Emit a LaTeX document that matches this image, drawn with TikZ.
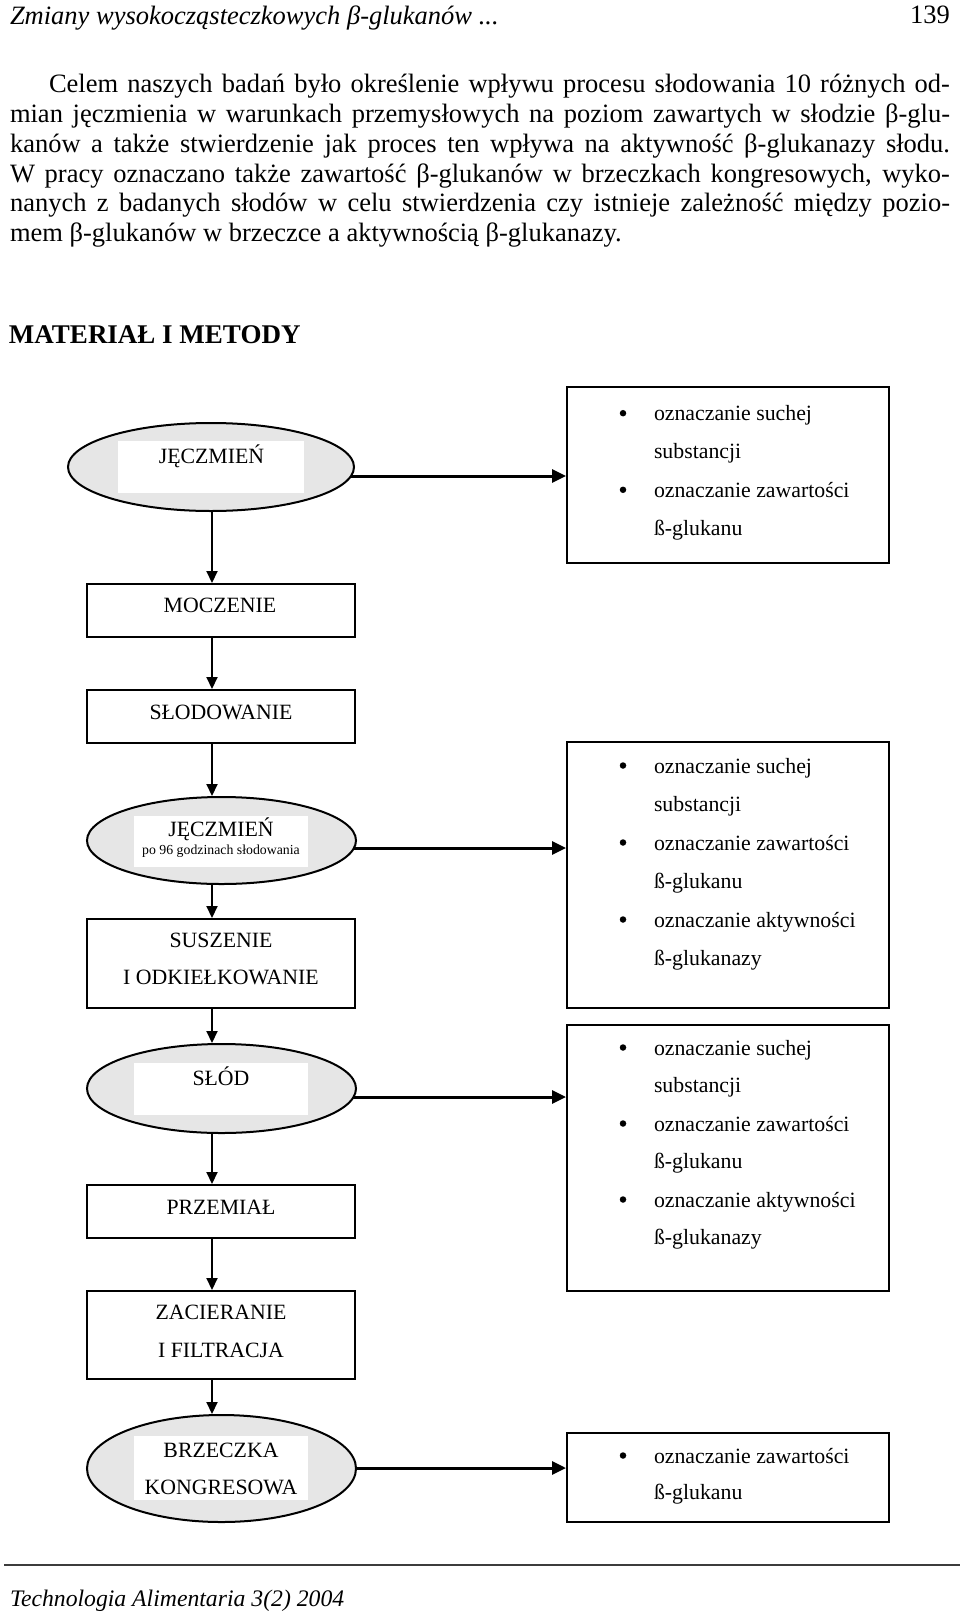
\documentclass[tikz,border=0pt]{standalone}
\usepackage{fontspec}
\setmainfont{Liberation Serif}
\usetikzlibrary{shapes.geometric,arrows.meta,backgrounds}
\definecolor{ovalgray}{RGB}{230,230,230}
\definecolor{rulegray}{RGB}{60,60,60}
\newcommand\dfont{\fontsize{21.8}{26}\selectfont}
\newcommand\pfont{\fontsize{26.5}{30}\selectfont}
\newcommand\smfont{\fontsize{13.8}{16}\selectfont}
\begin{document}
\begin{tikzpicture}[x=1pt,y=-1pt,
  txt/.style={inner sep=0pt, outer sep=0pt, font=\dfont, anchor=base},
  ptxt/.style={inner sep=0pt, outer sep=0pt, font=\pfont, anchor=base west},
  procbox/.style={rectangle, draw=black, line width=2pt, inner sep=0pt, minimum width=268pt},
  oval/.style={ellipse, draw=black, line width=2pt, fill=ovalgray, inner sep=0pt},
  whiterect/.style={rectangle, fill=white, draw=none, inner sep=0pt},
  infobox/.style={rectangle, draw=black, line width=2pt, inner sep=0pt, minimum width=322pt},
  bul/.style={circle, fill=black, draw=none, inner sep=0pt, minimum size=6.5pt},
  itemtxt/.style={inner sep=0pt, outer sep=0pt, font=\dfont, anchor=base west},
  varr/.style={line width=2pt, -{Triangle[length=12pt,width=11pt]}},
  harr/.style={line width=3pt, -{Triangle[length=14pt,width=13pt]}},
]
\useasboundingbox (0,0) rectangle (960,1614);

% ---------- page header ----------
\node[ptxt, font=\pfont\itshape] (hdr) at (10,24) {Zmiany wysokocząsteczkowych β-glukanów ...};
\node[inner sep=0pt, font=\pfont, anchor=base east] (pgnum) at (950,23.5) {139};

% ---------- paragraph ----------
\node[ptxt] (p1) at (49,92.5) {\makebox[901pt][s]{Celem naszych badań było określenie wpływu procesu słodowania 10 różnych od-}};
\node[ptxt] (p2) at (10,122.4) {\makebox[940pt][s]{mian jęczmienia w warunkach przemysłowych na poziom zawartych w słodzie β-glu-}};
\node[ptxt] (p3) at (10,152.2) {\makebox[940pt][s]{kanów a także stwierdzenie jak proces ten wpływa na aktywność β-glukanazy słodu.}};
\node[ptxt] (p4) at (10,182) {\makebox[940pt][s]{W pracy oznaczano także zawartość β-glukanów w brzeczkach kongresowych, wyko-}};
\node[ptxt] (p5) at (10,211.9) {\makebox[940pt][s]{nanych z badanych słodów w celu stwierdzenia czy istnieje zależność między pozio-}};
\node[ptxt] (p6) at (10,241.8) {mem β-glukanów w brzeczce a aktywnością β-glukanazy.};

% ---------- section title ----------
\node[ptxt, font=\fontsize{27}{30}\selectfont\bfseries] (sec) at (9,343.3) {MATERIAŁ I METODY};

% ---------- left column ----------
\coordinate (axis) at (212,0);

\node[oval, minimum width=286pt, minimum height=88pt] (eA) at (211,467) {};
\node[whiterect, minimum width=186pt, minimum height=52pt] (wA) at (211,467) {};
\node[txt] (tA) at (211.5,463) {JĘCZMIEŃ};

\node[procbox, minimum height=53pt] (moczenie) at (221,610.5) {};
\node[txt] (tmocz) at (220,612.3) {MOCZENIE};

\node[procbox, minimum height=53pt] (slodowanie) at (221,716.5) {};
\node[txt] (tslodow) at (221,719.3) {SŁODOWANIE};

\node[oval, minimum width=269pt, minimum height=87pt] (eB) at (221.5,840.5) {};
\node[whiterect, minimum width=174pt, minimum height=51pt] (wB) at (221,841.5) {};
\node[txt] (tB1) at (221,836.3) {JĘCZMIEŃ};
\node[txt, font=\smfont] (tB2) at (221,854.5) {po 96 godzinach słodowania};

\node[procbox, minimum height=89pt] (suszenie) at (221,963.5) {};
\node[txt] (tsusz1) at (221,947.3) {SUSZENIE};
\node[txt] (tsusz2) at (221,984.3) {I ODKIEŁKOWANIE};

\node[oval, minimum width=269pt, minimum height=89pt] (eC) at (221.5,1088.5) {};
\node[whiterect, minimum width=174pt, minimum height=52pt] (wC) at (221,1089) {};
\node[txt] (tC) at (221,1085) {SŁÓD};

\node[procbox, minimum height=53pt] (przemial) at (221,1211.5) {};
\node[txt] (tprzem) at (221,1214) {PRZEMIAŁ};

\node[procbox, minimum height=88pt] (zacieranie) at (221,1335) {};
\node[txt] (tzac1) at (221,1319.3) {ZACIERANIE};
\node[txt] (tzac2) at (221,1357.3) {I FILTRACJA};

\node[oval, minimum width=269pt, minimum height=107pt] (eD) at (221.5,1468.5) {};
\node[whiterect, minimum width=174pt, minimum height=64pt] (wD) at (221,1468) {};
\node[txt] (tD1) at (221,1457.3) {BRZECZKA};
\node[txt] (tD2) at (221,1494.3) {KONGRESOWA};

% ---------- right column ----------
\node[infobox, minimum height=176pt] (rA) at (728,475) {};
\node[bul] (bA1) at (623,413.2) {};
\node[itemtxt] (iA1) at (654,420.7) {oznaczanie suchej};
\node[itemtxt] (iA2) at (654,458.3) {substancji};
\node[bul] (bA2) at (623,489.8) {};
\node[itemtxt] (iA3) at (654,497.3) {oznaczanie zawartości};
\node[itemtxt] (iA4) at (654,535) {ß-glukanu};

\node[infobox, minimum height=266pt] (rB) at (728,875) {};
\node[bul] (bB1) at (623,765.5) {};
\node[itemtxt] (iB1) at (654,773) {oznaczanie suchej};
\node[itemtxt] (iB2) at (654,811) {substancji};
\node[bul] (bB2) at (623,842.5) {};
\node[itemtxt] (iB3) at (654,850) {oznaczanie zawartości};
\node[itemtxt] (iB4) at (654,888) {ß-glukanu};
\node[bul] (bB3) at (623,919.5) {};
\node[itemtxt] (iB5) at (654,927) {oznaczanie aktywności};
\node[itemtxt] (iB6) at (654,965) {ß-glukanazy};

\node[infobox, minimum height=266pt] (rC) at (728,1158) {};
\node[bul] (bC1) at (623,1047.5) {};
\node[itemtxt] (iC1) at (654,1055) {oznaczanie suchej};
\node[itemtxt] (iC2) at (654,1092) {substancji};
\node[bul] (bC2) at (623,1123.5) {};
\node[itemtxt] (iC3) at (654,1131) {oznaczanie zawartości};
\node[itemtxt] (iC4) at (654,1168) {ß-glukanu};
\node[bul] (bC3) at (623,1199.5) {};
\node[itemtxt] (iC5) at (654,1207) {oznaczanie aktywności};
\node[itemtxt] (iC6) at (654,1244) {ß-glukanazy};

\node[infobox, minimum height=89pt] (rD) at (728,1477.5) {};
\node[bul] (bD1) at (623,1455.5) {};
\node[itemtxt] (iD1) at (654,1463) {oznaczanie zawartości};
\node[itemtxt] (iD2) at (654,1499) {ß-glukanu};

% ---------- connectors ----------
\draw[varr] (eA.south -| axis) -- (moczenie.north -| axis);
\draw[varr] (moczenie.south -| axis) -- (slodowanie.north -| axis);
\draw[varr] (slodowanie.south -| axis) -- (eB.north -| axis);
\draw[varr] (eB.south -| axis) -- (suszenie.north -| axis);
\draw[varr] (suszenie.south -| axis) -- (eC.north -| axis);
\draw[varr] (eC.south -| axis) -- (przemial.north -| axis);
\draw[varr] (przemial.south -| axis) -- (zacieranie.north -| axis);
\draw[varr] (zacieranie.south -| axis) -- (eD.north -| axis);

\coordinate (hA) at (0,476);
\coordinate (hB) at (0,848);
\coordinate (hC) at (0,1097);
\coordinate (hD) at (0,1468);
\begin{pgfonlayer}{background}
\fill[white] (0,0) rectangle (960,1614);
\draw[harr] (eA.center |- hA) -- (rA.west |- hA);
\draw[harr] (eB.center |- hB) -- (rB.west |- hB);
\draw[harr] (eC.center |- hC) -- (rC.west |- hC);
\draw[harr] (eD.center |- hD) -- (rD.west |- hD);
\end{pgfonlayer}

% ---------- footer ----------
\draw[line width=1.6pt, rulegray] (4,1565) -- (960,1565);
\node[ptxt, font=\fontsize{23.7}{28}\selectfont\itshape] (ftr) at (10,1606) {Technologia Alimentaria 3(2) 2004};
\end{tikzpicture}
\end{document}
